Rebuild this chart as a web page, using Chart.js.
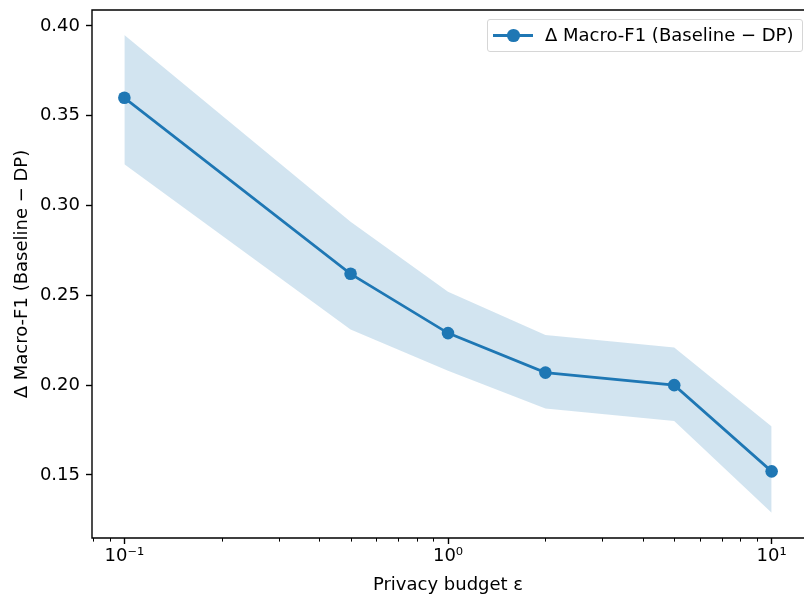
<!DOCTYPE html>
<html>
<head>
<meta charset="utf-8">
<script src="https://cdn.jsdelivr.net/npm/chart.js@4/dist/chart.umd.min.js"></script>
<style>
	html, body { margin: 0; padding: 0; background: #fff; overflow: hidden; }
	#wrap { position: relative; width: 804px; height: 596px; }
	#legend {
		position: absolute; left: 487px; top: 19px; width: 314px; height: 31px;
		border: 1px solid #d6d6d6; border-radius: 3px; background: rgba(255,255,255,0.8);
		font-family: "DejaVu Sans", sans-serif; font-size: 18px; color: #000;
	}
	#legend .sample { position: absolute; left: 5px; top: 14px; width: 40px; height: 2.7px; background: #1f77b4; }
	#legend .dot { position: absolute; left: 19px; top: 9px; width: 12.6px; height: 12.6px; border-radius: 50%; background: #1f77b4; }
	#legend .txt { position: absolute; left: 57px; top: 4px; white-space: nowrap; }
</style>
</head>
<body>
<div id="wrap">
	<canvas id="deltaChart" width="804" height="596"></canvas>
	<div id="legend"><div class="sample"></div><div class="dot"></div><div class="txt">Δ Macro-F1 (Baseline − DP)</div></div>
</div>
<script>
var epsilons = [0.1, 0.5, 1, 2, 5, 10];
var deltaMean = [0.360, 0.262, 0.229, 0.207, 0.200, 0.152];
var deltaUpper = [0.395, 0.291, 0.252, 0.228, 0.221, 0.177];
var deltaLower = [0.323, 0.231, 0.208, 0.187, 0.180, 0.129];

var xTicks = [0.1, 1, 10];
var xTickLabels = ['10⁻¹', '10⁰', '10¹'];
var yTicks = [0.15, 0.20, 0.25, 0.30, 0.35, 0.40];

var BLUE = '#1f77b4';
var FONT = { family: 'DejaVu Sans', size: 18 };

function toPoints(ys) {
	var pts = [];
	epsilons.forEach(function(x, i) {
		pts.push({ x: x, y: ys[i] });
	});
	return pts;
}

function noPadding(scale) {
	scale.paddingTop = 0;
	scale.paddingBottom = 0;
	scale.paddingLeft = 0;
	scale.paddingRight = 0;
}

// minor ticks + left/top/bottom spines (right spine falls outside the picture)
var framePlugin = {
	id: 'frame',
	afterDraw: function(chart) {
		var ctx = chart.ctx;
		var a = chart.chartArea;
		var xs = chart.scales.x;
		ctx.save();
		ctx.strokeStyle = '#000';
		ctx.lineWidth = 1;
		for (var d = -2; d <= 1; d++) {
			for (var m = 2; m <= 9; m++) {
				var v = m * Math.pow(10, d);
				if (v < xs.min || v > xs.max) continue;
				var px = Math.round(xs.getPixelForValue(v)) + 0.5;
				ctx.beginPath();
				ctx.moveTo(px, a.bottom);
				ctx.lineTo(px, a.bottom + 3.6);
				ctx.stroke();
			}
		}
		ctx.lineWidth = 1.4;
		ctx.beginPath();
		ctx.moveTo(chart.width + 10, a.top);
		ctx.lineTo(a.left, a.top);
		ctx.lineTo(a.left, a.bottom);
		ctx.lineTo(chart.width + 10, a.bottom);
		ctx.stroke();
		ctx.restore();
	}
};

function renderChart(id) {
	var canvas = document.getElementById(id);

	var options = {
		type: 'line',
		data: {
			datasets: [{
				data: toPoints(deltaLower),
				borderWidth: 0,
				pointRadius: 0,
				fill: false
			}, {
				data: toPoints(deltaUpper),
				borderWidth: 0,
				pointRadius: 0,
				backgroundColor: 'rgba(31,119,180,0.2)',
				fill: '-1'
			}, {
				data: toPoints(deltaMean),
				borderColor: BLUE,
				backgroundColor: BLUE,
				borderWidth: 2.7,
				pointRadius: 6.3,
				pointBorderWidth: 0,
				fill: false
			}]
		},
		options: {
			responsive: false,
			animation: false,
			devicePixelRatio: 1,
			layout: { autoPadding: false, padding: { left: 0, top: 10, right: -9, bottom: 0 } },
			scales: {
				x: {
					type: 'logarithmic',
					min: Math.pow(10, -1.1),
					max: Math.pow(10, 1.1),
					afterBuildTicks: function(scale) {
						scale.ticks = xTicks.map(function(v) { return { value: v }; });
					},
					afterFit: function(scale) {
						scale.height = 58;
						noPadding(scale);
					},
					border: { display: false },
					grid: { drawOnChartArea: false, tickLength: 6, tickWidth: 1.4, tickColor: '#000' },
					ticks: {
						color: '#000', font: FONT, padding: 2, maxRotation: 0, autoSkip: false,
						callback: function(value) {
							var i = xTicks.indexOf(value);
							return i >= 0 ? xTickLabels[i] : '';
						}
					},
					title: {
						display: true, text: 'Privacy budget ε', color: '#000', font: FONT,
						padding: { top: 0, bottom: 0 }
					}
				},
				y: {
					min: 0.1149,
					max: 0.4089,
					afterBuildTicks: function(scale) {
						scale.ticks = yTicks.map(function(v) { return { value: v }; });
					},
					afterFit: function(scale) {
						scale.width = 92;
						noPadding(scale);
					},
					border: { display: false },
					grid: { drawOnChartArea: false, tickLength: 6, tickWidth: 1.4, tickColor: '#000' },
					ticks: {
						color: '#000', font: FONT, padding: 6,
						callback: function(value) { return value.toFixed(2); }
					},
					title: {
						display: true, text: 'Δ Macro-F1 (Baseline − DP)', color: '#000', font: FONT,
						padding: { top: 12, bottom: 0 }
					}
				}
			},
			plugins: {
				legend: { display: false },
				tooltip: { enabled: false }
			}
		},
		plugins: [framePlugin]
	};

	new Chart(canvas, options);
}

renderChart('deltaChart');
</script>
</body>
</html>
